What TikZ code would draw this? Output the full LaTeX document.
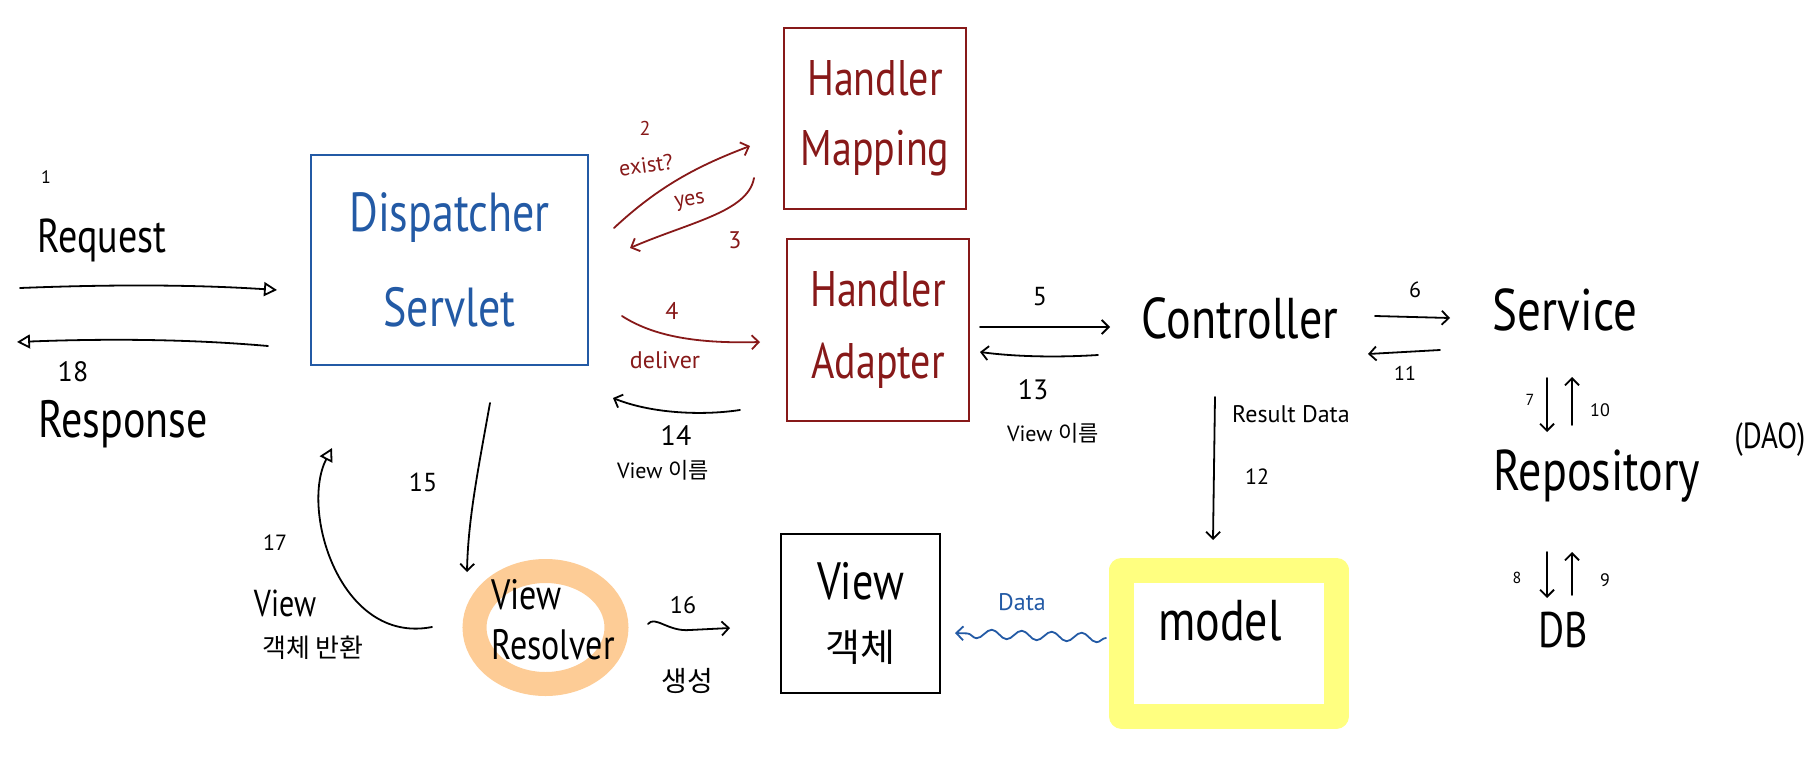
\documentclass[tikz,border=0pt]{standalone}
\usepackage{fontspec}
\setmainfont{PT Sans}
\newfontfamily\kr{Noto Sans CJK KR}
\usetikzlibrary{arrows.meta,decorations.pathmorphing,shapes.geometric}
\definecolor{dsblue}{RGB}{35,90,165}
\definecolor{hred}{RGB}{135,25,25}
\definecolor{ring}{RGB}{253,204,150}
\definecolor{hl}{RGB}{255,255,128}
\newcommand\hwtall[1]{\scalebox{1}[1.25]{#1}}
\begin{document}
\begin{tikzpicture}[x=1pt,y=-1pt,
  hand/.style={line width=1.8pt,line cap=round,line join=round},
  barb/.style={hand,-{Straight Barb[length=7pt,width=14pt]}},
  tri/.style={hand,-{Triangle[open,length=13pt,width=14pt]}},
  fs/.style={font=\fontsize{#1}{#1}\selectfont,inner sep=0pt},
  boxtext/.style={align=center,inner sep=0pt},
]
\useasboundingbox (0,0) rectangle (1816,761);

% ---------- main boxes ----------
\node[draw=dsblue,line width=2pt,minimum width=277pt,minimum height=210pt,
      text=dsblue,boxtext,font=\fontsize{44}{95}\selectfont] (ds) at (449.5,260) {\hwtall{Dispatcher}\\\hwtall{Servlet}};
\node[draw=hred,line width=2pt,minimum width=182pt,minimum height=181pt,
      text=hred,boxtext,font=\fontsize{40}{70}\selectfont] (hm) at (875,118.5) {\hwtall{Handler}\\\hwtall{Mapping}};
\node[draw=hred,line width=2pt,minimum width=182pt,minimum height=182pt,
      text=hred,boxtext,font=\fontsize{40}{72}\selectfont] (ha) at (878,330) {\hwtall{Handler}\\\hwtall{Adapter}};
\node[draw,line width=1.8pt,minimum width=159pt,minimum height=159pt,
      boxtext,font=\fontsize{42}{62}\selectfont] (vw) at (860.5,613.5) {\hwtall{View}\\{\kr\fontsize{38}{62}\selectfont 객체}};

% model with yellow frame
\node[draw=hl,line width=25pt,line join=round,minimum width=215pt,minimum height=146pt] (md) at (1229,643) {};
\node[fs=46] (mdt) at (1220,621) {\hwtall{model}};

% view resolver ring
\node[draw=ring,line width=24pt,ellipse,minimum width=142pt,minimum height=113pt,inner sep=0pt] (vr) at (545.5,627.5) {};
\node[align=left,inner sep=0pt,font=\fontsize{34}{50}\selectfont] (vrt) at (553,620) {\hwtall{View}\\\hwtall{Resolver}};

% ---------- plain component labels ----------
\node[fs=46,anchor=base] (ctl) at (1240,338) {\hwtall{Controller}};
\node[fs=47,anchor=base] (svc) at (1565,330) {\hwtall{Service}};
\node[fs=46,anchor=base] (repo) at (1597,490) {\hwtall{Repository}};
\node[fs=29] (dao) at (1770,440) {\hwtall{(DAO)}};
\node[fs=40] (db) at (1563,630) {\hwtall{DB}};

% ---------- request / response ----------
\node[fs=18] (n1) at (46,177) {1};
\node[fs=38,anchor=base] (req) at (102,252) {\hwtall{Request}};
\node[fs=28] (n18) at (73,372) {18};
\node[fs=42,anchor=base] (resp) at (123,437) {\hwtall{Response}};
\coordinate (rq1) at (20,288);
\coordinate (rq2) at (277,290);
\coordinate (rs1) at (268,346);
\coordinate (rs2) at (17,342);
\draw[tri] (rq1) .. controls (120,284) and (200,285) .. (rq2);
\draw[tri] (rs1) .. controls (200,340) and (120,338) .. (rs2);

% ---------- 2 / 3 : dispatcher <-> handler mapping ----------
\coordinate (a2s) at (614,228);
\coordinate (a2e) at (750,146);
\coordinate (a3s) at (754,178);
\coordinate (a3e) at (630,248);
\draw[barb,hred] (a2s) .. controls (660,185) and (700,165) .. (a2e);
\draw[barb,hred] (a3s) .. controls (748,212) and (690,222) .. (a3e);
\node[fs=20,text=hred] (n2) at (645,128) {2};
\node[fs=22,text=hred,rotate=8] (exist) at (646,165) {exist?};
\node[fs=22,text=hred,rotate=10] (yes) at (690,202) {yes};
\node[fs=24,text=hred] (n3) at (735,240) {3};

% ---------- 4 : deliver ----------
\coordinate (a4s) at (622,316);
\coordinate (a4e) at (760,342);
\draw[barb,hred] (a4s) .. controls (650,334) and (690,344) .. (a4e);
\node[fs=24,text=hred] (n4) at (672,311) {4};
\node[fs=24,text=hred] (deliver) at (665,360) {deliver};

% ---------- 14 ----------
\coordinate (a14s) at (740,410);
\coordinate (a14e) at (613,398);
\draw[barb] (a14s) .. controls (700,416) and (650,413) .. (a14e);
\node[fs=28] (n14) at (676,436) {14};
\node[fs=22] (vn14) at (663,470) {View {\kr 이름}};

% ---------- 5 / 13 ----------
\coordinate (a5s) at (980,327);
\coordinate (a5e) at (1110,327);
\coordinate (a13s) at (1098,355);
\coordinate (a13e) at (980,352);
\draw[barb] (a5s) -- (a5e);
\draw[barb] (a13s) .. controls (1050,358) and (1010,356) .. (a13e);
\node[fs=26] (n5) at (1040,297) {5};
\node[fs=28] (n13) at (1033,390) {13};
\node[fs=22] (vn13) at (1053,433) {View {\kr 이름}};

% ---------- 6 / 11 ----------
\coordinate (a6s) at (1375,316);
\coordinate (a6e) at (1450,318);
\coordinate (a11s) at (1440,350);
\coordinate (a11e) at (1368,354);
\draw[barb] (a6s) -- (a6e);
\draw[barb] (a11s) -- (a11e);
\node[fs=22] (n6) at (1415,290) {6};
\node[fs=20] (n11) at (1405,373) {11};

% ---------- 7/10, 8/9 ----------
\coordinate (a7s) at (1547,378);
\coordinate (a7e) at (1547,432);
\coordinate (a10s) at (1572,425);
\coordinate (a10e) at (1572,377);
\draw[barb] (a7s) -- (a7e);
\draw[barb] (a10s) -- (a10e);
\node[fs=16] (n7) at (1530,400) {7};
\node[fs=18] (n10) at (1600,410) {10};
\coordinate (a8s) at (1547,552);
\coordinate (a8e) at (1547,598);
\coordinate (a9s) at (1572,595);
\coordinate (a9e) at (1572,552);
\draw[barb] (a8s) -- (a8e);
\draw[barb] (a9s) -- (a9e);
\node[fs=16] (n8) at (1517,578) {8};
\node[fs=18] (n9) at (1605,580) {9};

% ---------- result data ----------
\coordinate (a12s) at (1215,397);
\coordinate (a12e) at (1213,540);
\draw[barb] (a12s) -- (a12e);
\node[fs=24,anchor=west] (rd) at (1232,414) {Result Data};
\node[fs=22] (n12) at (1257,477) {12};

% ---------- data (wavy) ----------
\coordinate (dts) at (1106,638);
\coordinate (dte) at (955,633);
\draw[hand,dsblue,decorate,decoration={snake,amplitude=4.5pt,segment length=30pt,post length=10pt},
      -{Straight Barb[length=7pt,width=14pt]}] (dts) -- (dte);
\node[fs=24,text=dsblue] (data) at (1022,602) {Data};

% ---------- 15 ----------
\coordinate (a15s) at (490,403);
\coordinate (a15e) at (467,572);
\draw[barb] (a15s) .. controls (478,470) and (468,520) .. (a15e);
\node[fs=26] (n15) at (423,482) {15};

% ---------- 16 ----------
\coordinate (a16s) at (648,624);
\coordinate (a16e) at (730,628);
\draw[barb] (a16s) .. controls (655,615) and (668,632) .. (690,630) -- (a16e);
\node[fs=24] (n16) at (683,605) {16};
\node[fs=28,font=\kr\fontsize{28}{28}\selectfont] (gen) at (687,681) {생성};

% ---------- 17 ----------
\coordinate (a17s) at (432,627);
\coordinate (a17e) at (332,448);
\draw[tri] (a17s) .. controls (340,645) and (300,510) .. (a17e);
\node[fs=22] (n17) at (275,543) {17};
\node[fs=30] (v17) at (285,603) {\hwtall{View}};
\node[fs=26,font=\kr\fontsize{26}{26}\selectfont] (ret) at (313,648) {객체 반환};
\end{tikzpicture}
\end{document}
